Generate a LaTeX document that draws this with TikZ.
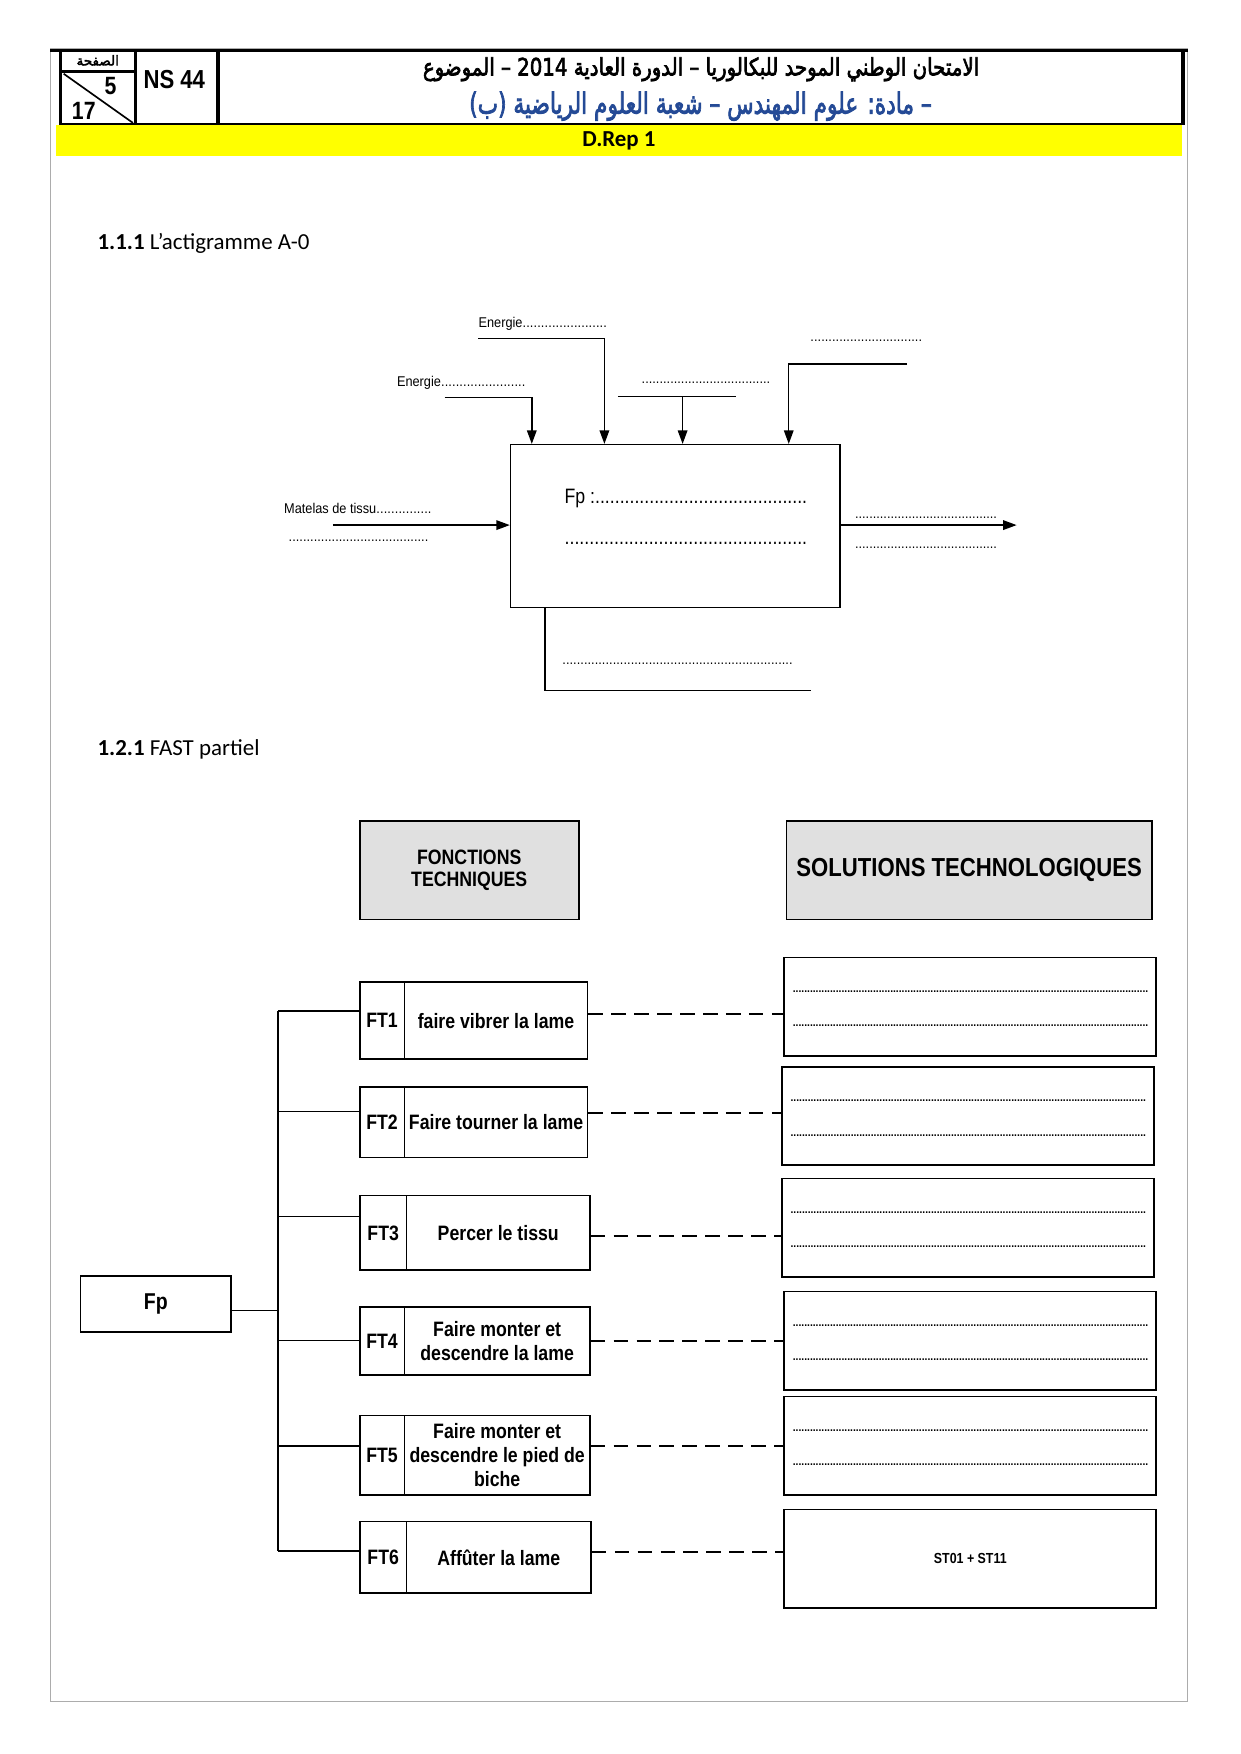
\documentclass[tikz,border=0pt]{standalone}
\usepackage{fontspec}
\usepackage{graphicx}
\usetikzlibrary{arrows.meta,fit,calc}
\setmainfont{Carlito}
\newfontfamily\narrowf[FakeStretch=0.85]{Liberation Sans}
\newfontfamily\smallf[FakeStretch=0.9]{Liberation Sans}
\newfontfamily\arabicfont[Script=Arabic,FakeBold=3]{DejaVu Sans}
\TeXXeTstate=1
\newdimen\myu \myu=0.5363pt
\newcommand\dl[2]{\makebox[#1\myu][l]{#2\xleaders\hbox{.}\hfill}}
\definecolor{arblue}{RGB}{36,74,150}
\definecolor{boxgray}{RGB}{224,224,224}
\definecolor{bandyellow}{RGB}{255,255,0}

\newcommand\ftbox[9]{%
  \node[ftb, fit={(322,#2) (#5,#3)}] (#1l) {};
  \node[ftb, fit={(#5,#2) (#4,#3)}] (#1r) {};
  \node[fttext] (#1lt) at (#1l.center) {#6};
  \node[fttext] (#1rt) at (#1r.center) {#7};
  \coordinate (#1b) at (249,#8);
  \coordinate (#1d) at (0,#9);
}
\newcommand\solbox[5]{%
  \node[ftb, fit={(#2,#3) (#4,#5)}] (#1) {};
  \node[soldots] (#1a) at ($(#1.north west)+(8,31)$) {\dl{318}{}};
  \node[soldots] (#1b) at ($(#1.north west)+(8,62)$) {\dl{318}{}};
}

\begin{document}
\begin{tikzpicture}[x=0.5363pt,y=-0.5363pt,
  pageframe/.style={draw=gray!65, line width=0.7pt},
  abox/.style={draw, line width=0.7pt, inner sep=0pt},
  aline/.style={draw, line width=0.7pt},
  arr/.style={draw, line width=0.7pt, -{Triangle[length=6.5pt,width=4.6pt]}},
  lab/.style={font=\smallf\fontsize{6.8}{8}\selectfont, anchor=west, inner sep=0pt},
  ftb/.style={draw, line width=0.8pt, inner sep=0pt},
  hdrbox/.style={draw, line width=0.9pt, fill=boxgray, inner sep=0pt},
  fttext/.style={font=\narrowf\bfseries\fontsize{10}{11.5}\selectfont, align=center, inner sep=0pt},
  soldots/.style={font=\smallf\bfseries\fontsize{5.5}{6}\selectfont, anchor=west, inner sep=0pt},
  dashcon/.style={draw, line width=0.9pt, dash pattern=on 7pt off 4pt},
  conn/.style={draw, line width=0.8pt},
  cellthick/.style={draw, line width=1.3pt, inner sep=0pt}]
\useasboundingbox (0,0) rectangle (1110,1570);
\fill[white] (0,0) rectangle (1110,1570);

% page frame
\draw[pageframe] (45,44) rectangle (1063,1523);

% ---------- header ----------
\draw[line width=1.2pt] (45,45) -- (1063,45);
\node[cellthick, fit={(54,45) (121,111)}] (pgcell) {};
\draw[line width=1.3pt] (54,64) -- (121,64);
\coordinate (dg1) at (57,66);
\coordinate (dg2) at (119,110);
\draw[line width=0.8pt] (dg1) -- (dg2);
\node[inner sep=0pt, font=\arabicfont\fontsize{6.5}{7}\selectfont] (pglbl) at (87.5,54) {\beginR الصفحة\endR};
\node[inner sep=0pt, font=\narrowf\bfseries\fontsize{12}{12}\selectfont] (pg5) at (99,77) {5};
\node[inner sep=0pt, font=\narrowf\bfseries\fontsize{12}{12}\selectfont] (pg17) at (75,99) {17};
\node[draw, line width=0.8pt, inner sep=0pt, fit={(121,45) (194,111)}] (nscell) {};
\node[inner sep=0pt, font=\narrowf\bfseries\fontsize{12.5}{13}\selectfont] (ns) at (156,71) {NS 44};
\node[draw, line width=0.8pt, inner sep=0pt, fit={(196,45) (1058,111)}] (titcell) {};
\draw[line width=1.8pt] (titcell.north west) -- (titcell.south west);
\draw[line width=1.6pt] (titcell.north east) -- (titcell.south east);
\node[inner sep=0pt] (ar1) at (627.5,62) {\resizebox*{267pt}{11.5pt}{\arabicfont\beginR الامتحان الوطني الموحد للبكالوريا – الدورة العادية \beginL 2014\endL{} – الموضوع\endR}};
\node[inner sep=0pt, text=arblue] (ar2) at (627,95) {\resizebox*{222pt}{14pt}{\arabicfont\beginR – مادة: علوم المهندس – شعبة العلوم الرياضية (ب)\endR}};

\node[fill=bandyellow, inner sep=0pt, fit={(50,112) (1058,140)}] (band) {};
\node[inner sep=0pt, font=\bfseries\fontsize{11}{13}\selectfont] (drep) at (band.center) {D.Rep 1};

% ---------- section 1.1.1 ----------
\node[anchor=west, inner sep=0pt, font=\fontsize{11}{13}\selectfont] (h111) at (87,218) {\textbf{1.1.1} L’actigramme A-0};

\node[abox, fit={(457,398) (752,544)}] (fp0) {};
\node[anchor=west, inner sep=0pt, font=\narrowf\fontsize{10}{12}\selectfont] (fpt1) at (505,446) {\dl{217}{Fp :}};
\node[anchor=west, inner sep=0pt, font=\narrowf\fontsize{10}{12}\selectfont] (fpt2) at (505,486) {\dl{217}{}};

\coordinate (e1s) at (398,356); \coordinate (e1x) at (476,0);
\draw[arr] (e1s) -| (fp0.north -| e1x);
\coordinate (e2s) at (428,303); \coordinate (e2x) at (541,0);
\draw[arr] (e2s) -| (fp0.north -| e2x);
\coordinate (e3a) at (553,355); \coordinate (e3b) at (659,355); \coordinate (e3m) at (611,355);
\draw[aline] (e3a) -- (e3b);
\draw[arr] (e3m) -- (fp0.north -| e3m);
\coordinate (e4s) at (812,326); \coordinate (e4x) at (706,0);
\draw[arr] (e4s) -| (fp0.north -| e4x);
\coordinate (in1) at (298,470);
\draw[arr] (in1) -- (fp0.west |- in1);
\coordinate (out1) at (910,470);
\draw[arr] (fp0.east |- out1) -- (out1);
\coordinate (mx) at (488,0); \coordinate (mend) at (726,618);
\draw[aline] (fp0.south -| mx) |- (mend);

\node[lab] (le2) at (428,290) {\dl{115}{Energie}};
\node[lab] (le1) at (355,343) {\dl{115}{Energie}};
\node[lab] (le3) at (574,343) {\dl{115}{}};
\node[lab] (le4) at (725,305) {\dl{100}{}};
\node[lab] (lin1) at (254,455) {\dl{132}{Matelas de tissu}};
\node[lab] (lin2) at (258,484) {\dl{125}{}};
\node[lab] (lo1) at (765,463) {\dl{127}{}};
\node[lab] (lo2) at (765,490) {\dl{127}{}};
\node[lab] (lm) at (503,594) {\dl{206}{}};

% ---------- section 1.2.1 ----------
\node[anchor=west, inner sep=0pt, font=\fontsize{11}{13}\selectfont] (h121) at (87,671) {\textbf{1.2.1} FAST partiel};

\node[hdrbox, fit={(322,735) (518,823)}] (hfn) {};
\node[fttext, font=\narrowf\bfseries\fontsize{10}{10.8}\selectfont] (hfnt) at (hfn.center) {FONCTIONS\\TECHNIQUES};
\node[hdrbox, fit={(704,735) (1031,823)}] (hst) {};
\node[fttext, font=\narrowf\bfseries\fontsize{12.5}{14}\selectfont] (hstt) at (hst.center) {SOLUTIONS TECHNOLOGIQUES};

\node[ftb, fit={(72,1142) (207,1192)}] (fpf) {};
\node[fttext, font=\narrowf\bfseries\fontsize{11}{12}\selectfont] (fpft) at (fpf.center) {Fp};

\ftbox{ft1}{879}{948}{526}{362}{FT1}{faire vibrer la lame}{905}{908}
\ftbox{ft2}{973}{1036}{526}{362}{FT2}{Faire tourner la lame}{995}{996}
\ftbox{ft3}{1070}{1137}{528}{364}{FT3}{Percer le tissu}{1089}{1106}
\ftbox{ft4}{1170}{1231}{528}{362}{FT4}{Faire monter et\\descendre la lame}{1200}{1200}
\ftbox{ft5}{1267}{1338}{528}{362}{FT5}{Faire monter et\\descendre le pied de\\biche}{1294}{1294}
\ftbox{ft6}{1362}{1426}{529}{364}{FT6}{Affûter la lame}{1388}{1389}

\solbox{s1}{702}{857}{1035}{945}
\solbox{s2}{700}{955}{1033}{1043}
\solbox{s3}{700}{1055}{1033}{1143}
\solbox{s4}{702}{1156}{1035}{1244}
\solbox{s5}{702}{1250}{1035}{1338}
\node[ftb, fit={(702,1351) (1035,1439)}] (s6) {};
\node[fttext, font=\narrowf\bfseries\fontsize{7}{8}\selectfont] (s6t) at (s6.center) {ST01 + ST11};

% tree
\coordinate (fpj) at (249,1173);
\draw[conn] (fpf.east |- fpj) -- (fpj);
\draw[conn] (ft1b) -- (ft6b);
\foreach \n in {ft1,ft2,ft3,ft4,ft5,ft6} {
  \draw[conn] (\n b) -- (\n l.west |- \n b);
}
\draw[dashcon] (ft1r.east |- ft1d) -- (s1.west |- ft1d);
\draw[dashcon] (ft2r.east |- ft2d) -- (s2.west |- ft2d);
\draw[dashcon] (ft3r.east |- ft3d) -- (s3.west |- ft3d);
\draw[dashcon] (ft4r.east |- ft4d) -- (s4.west |- ft4d);
\draw[dashcon] (ft5r.east |- ft5d) -- (s5.west |- ft5d);
\draw[dashcon] (ft6r.east |- ft6d) -- (s6.west |- ft6d);
\end{tikzpicture}
\end{document}
